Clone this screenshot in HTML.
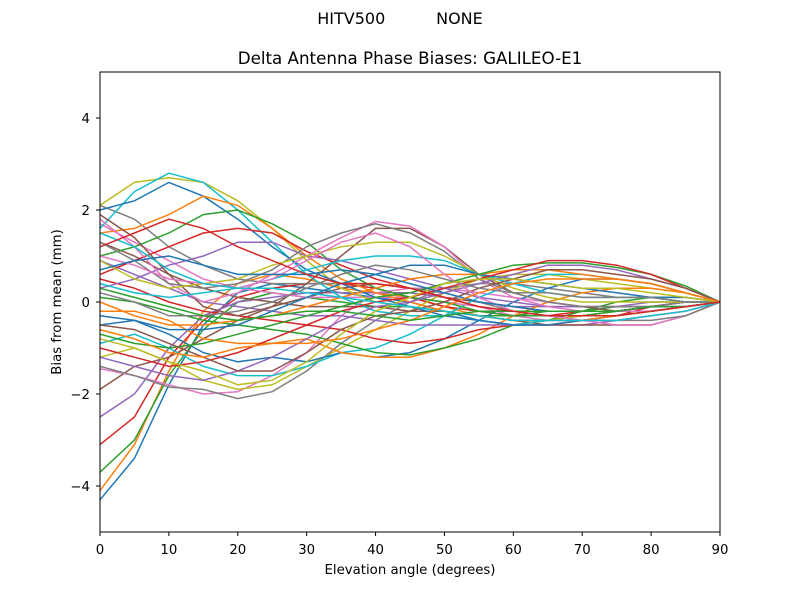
<!DOCTYPE html>
<html><head><meta charset="utf-8"><style>
body{margin:0;background:#fff;font-family:"DejaVu Sans","Liberation Sans",sans-serif}
</style></head><body>
<svg id="chart" width="800" height="600" xmlns="http://www.w3.org/2000/svg" font-family="DejaVu Sans, Liberation Sans, sans-serif">
<rect width="800" height="600" fill="#fff"/>
<text x="400" y="24" text-anchor="middle" font-size="16" xml:space="preserve">HITV500          NONE</text>
<text x="410" y="64" text-anchor="middle" font-size="16.7">Delta Antenna Phase Biases: GALILEO-E1</text>
<g id="lines"></g>
<rect x="100" y="72" width="620" height="460" fill="none" stroke="#000" stroke-width="1"/>
<g id="xticks"></g>
<g id="yticks"></g>
<text x="410" y="574" text-anchor="middle" font-size="13.3">Elevation angle (degrees)</text>
<text transform="translate(61,302) rotate(-90)" text-anchor="middle" font-size="13.3">Bias from mean (mm)</text>
</svg>
<script>
const elevations=[0,5,10,15,20,25,30,35,40,45,50,55,60,65,70,75,80,85,90];
const xTickLabels=[0,10,20,30,40,50,60,70,80,90];
const yTickLabels=[-4,-2,0,2,4];
const s01=[-4.3,-3.4,-1.8,-0.5,0.2,0.4,0.3,0.2,0.1,0,-0.2,-0.4,-0.5,-0.4,-0.3,-0.2,-0.1,-0.1,0];
const s02=[-4.1,-3.1,-1.5,-0.2,0.4,0.6,0.5,0.3,0.2,0.1,-0.1,-0.3,-0.4,-0.4,-0.3,-0.2,-0.1,0,0];
const s03=[-3.7,-3.0,-1.6,-0.6,0,0.2,0.1,0,-0.1,-0.1,-0.2,-0.3,-0.3,-0.2,-0.2,-0.1,-0.1,0,0];
const s04=[-3.1,-2.5,-1.2,-0.4,0.1,0.3,0.4,0.4,0.3,0.1,-0.1,-0.2,-0.3,-0.3,-0.2,-0.2,-0.1,0,0];
const s05=[-2.5,-2.0,-1.0,-0.3,0,0.1,0.2,0.2,0.2,0.2,0.1,0,-0.1,-0.1,-0.1,-0.1,0,0,0];
const s06=[-1.9,-1.4,-1.2,-0.8,-0.4,-0.1,0.1,0.3,0.4,0.3,0.1,0,-0.1,-0.2,-0.2,-0.2,-0.1,0,0];
const s07=[-1.45,-1.6,-1.8,-2.0,-1.95,-1.6,-1.1,-0.3,0.2,0.3,0.3,0.2,0.1,0,-0.1,-0.1,-0.1,0,0];
const s08=[-1.4,-1.6,-1.85,-1.9,-2.1,-1.95,-1.5,-0.9,-0.4,0,0.3,0.4,0.4,0.3,0.2,0.1,0.1,0,0];
const s09=[-1.2,-1.0,-1.3,-1.7,-1.9,-1.8,-1.4,-1.0,-0.6,-0.2,0.2,0.5,0.6,0.6,0.5,0.4,0.3,0.2,0];
const s10=[-0.9,-0.7,-1.0,-1.4,-1.6,-1.6,-1.4,-1.1,-1.0,-0.7,-0.3,0.1,0.4,0.6,0.6,0.5,0.4,0.2,0];
const s11=[-0.5,-0.4,-0.7,-1.1,-1.3,-1.2,-1.3,-1.1,-1.2,-1.1,-0.8,-0.4,0,0.3,0.5,0.5,0.4,0.2,0];
const s12=[-0.2,-0.2,-0.4,-0.8,-0.9,-0.9,-0.8,-1.1,-1.2,-1.2,-1.0,-0.7,-0.3,0,0.2,0.3,0.3,0.2,0];
const s13=[0.1,0,-0.2,-0.4,-0.5,-0.6,-0.7,-0.9,-1.1,-1.15,-1.0,-0.8,-0.5,-0.4,-0.2,0,0.1,0.1,0];
const s14=[0.5,0.3,0,-0.2,-0.3,-0.4,-0.5,-0.6,-0.8,-0.9,-0.8,-0.6,-0.5,-0.5,-0.4,-0.3,-0.1,0,0];
const s15=[0.9,0.6,0.3,0,-0.1,-0.2,-0.3,-0.3,-0.4,-0.5,-0.5,-0.5,-0.5,-0.5,-0.5,-0.4,-0.3,-0.2,0];
const s16=[1.3,1.0,0.6,0.3,0.1,0,-0.1,-0.1,-0.1,-0.2,-0.2,-0.3,-0.4,-0.5,-0.5,-0.5,-0.5,-0.3,0];
const s17=[1.7,1.3,0.9,0.5,0.3,0.2,0.1,0.1,0.1,0.1,0,-0.1,-0.3,-0.4,-0.4,-0.5,-0.5,-0.3,0];
const s18=[2.1,1.8,1.2,0.8,0.5,0.4,0.4,0.4,0.4,0.3,0.2,0,-0.2,-0.3,-0.4,-0.4,-0.4,-0.3,0];
const s19=[2.1,2.6,2.7,2.6,2.2,1.6,0.9,0.3,0,-0.1,-0.2,-0.3,-0.4,-0.4,-0.3,-0.3,-0.2,-0.1,0];
const s20=[1.6,2.4,2.8,2.6,2.0,1.3,0.6,0.1,-0.2,-0.3,-0.3,-0.4,-0.5,-0.4,-0.4,-0.3,-0.2,-0.1,0];
const s21=[2.0,2.2,2.6,2.3,1.8,1.2,0.7,0.4,0.1,-0.1,-0.3,-0.4,-0.5,-0.5,-0.4,-0.3,-0.2,-0.1,0];
const s22=[1.5,1.6,1.9,2.3,2.1,1.6,1.0,0.5,0.2,0,-0.2,-0.3,-0.4,-0.4,-0.4,-0.3,-0.2,-0.1,0];
const s23=[1.0,1.2,1.5,1.9,2.0,1.7,1.3,0.7,0.3,0.1,0,-0.2,-0.3,-0.3,-0.3,-0.2,-0.2,-0.1,0];
const s24=[0.6,0.9,1.2,1.5,1.6,1.5,1.1,0.8,0.5,0.3,0.1,-0.1,-0.2,-0.2,-0.2,-0.2,-0.1,0,0];
const s25=[0.3,0.5,0.8,1.0,1.3,1.3,1.0,0.9,0.7,0.5,0.3,0.1,0,-0.1,-0.1,-0.1,-0.1,0,0];
const s26=[1.9,1.4,0.6,-0.1,-0.3,-0.1,0.4,1.0,1.6,1.6,1.2,0.6,0.2,0,-0.1,-0.2,-0.2,-0.1,0];
const s27=[1.8,1.2,0.4,0,0.2,0.6,1.0,1.4,1.75,1.65,1.2,0.5,0.1,-0.1,-0.2,-0.2,-0.2,-0.1,0];
const s28=[1.3,0.9,0.4,0.3,0.4,0.7,1.2,1.5,1.7,1.5,1.1,0.5,0.2,0,-0.1,-0.1,-0.1,0,0];
const s29=[0.9,0.5,0.3,0.4,0.5,0.8,1.0,1.2,1.3,1.3,1.0,0.6,0.3,0.1,0,0,0,0,0];
const s30=[0.4,0.2,0.1,0.2,0.3,0.5,0.7,0.9,1.0,1.0,0.9,0.6,0.4,0.2,0.1,0.1,0.1,0,0];
const s31=[-0.3,-0.4,-0.6,-0.6,-0.5,-0.2,0.1,0.4,0.6,0.8,0.8,0.6,0.5,0.4,0.3,0.2,0.1,0.1,0];
const s32=[0.0,-0.3,-0.5,-0.5,-0.4,-0.3,-0.1,0.1,0.3,0.5,0.6,0.6,0.7,0.7,0.6,0.5,0.4,0.2,0];
const s33=[-0.7,-0.9,-1.0,-0.9,-0.7,-0.5,-0.3,-0.1,0.1,0.2,0.4,0.6,0.8,0.85,0.85,0.75,0.6,0.35,0];
const s34=[-1.0,-1.2,-1.4,-1.3,-1.1,-0.8,-0.5,-0.2,0,0.1,0.3,0.5,0.7,0.9,0.9,0.8,0.6,0.3,0];
const s35=[-1.2,-1.4,-1.6,-1.7,-1.5,-1.2,-0.8,-0.4,-0.1,0,0.2,0.4,0.6,0.8,0.8,0.7,0.5,0.3,0];
const s36=[-0.5,-0.6,-0.9,-1.2,-1.5,-1.5,-1.1,-0.6,-0.3,-0.2,0,0.3,0.5,0.7,0.7,0.6,0.5,0.3,0];
const s37=[1.0,0.8,0.5,0.4,0.3,0.5,0.9,1.3,1.5,1.2,0.6,0.1,-0.2,-0.3,-0.4,-0.4,-0.3,-0.2,0];
const s38=[0.2,0,-0.3,-0.3,-0.2,0,0.3,0.6,0.8,0.7,0.5,0.3,0.2,0.2,0.1,0.1,0.1,0,0];
const s39=[-0.8,-1.0,-1.3,-1.5,-1.8,-1.7,-1.3,-0.7,-0.2,0.1,0.4,0.5,0.5,0.4,0.3,0.3,0.2,0.1,0];
const s40=[1.5,1.2,0.7,0.4,0.3,0.3,0.2,0.1,0,-0.1,-0.2,-0.3,-0.4,-0.4,-0.4,-0.4,-0.3,-0.2,0];
const s41=[0.7,0.9,1.0,0.8,0.6,0.6,0.6,0.7,0.6,0.4,0.2,0,-0.1,-0.2,-0.2,-0.2,-0.1,-0.1,0];
const s42=[-0.6,-0.8,-1.1,-1.2,-1.0,-0.9,-0.9,-0.8,-0.6,-0.4,-0.1,0.2,0.4,0.5,0.5,0.5,0.4,0.2,0];
const s43=[0.3,0.1,-0.1,-0.3,-0.4,-0.3,-0.2,-0.2,-0.3,-0.4,-0.3,-0.2,-0.2,-0.2,-0.2,-0.2,-0.1,-0.1,0];
const s44=[1.2,1.5,1.8,1.6,1.2,0.9,0.6,0.4,0.4,0.3,0.1,-0.1,-0.2,-0.3,-0.3,-0.3,-0.2,-0.1,0];
const series=[s01,s02,s03,s04,s05,s06,s07,s08,s09,s10,s11,s12,s13,s14,s15,s16,s17,s18,s19,s20,s21,s22,s23,s24,s25,s26,s27,s28,s29,s30,s31,s32,s33,s34,s35,s36,s37,s38,s39,s40,s41,s42,s43,s44];
const colors=["#1f77b4","#ff7f0e","#2ca02c","#d62728","#9467bd","#8c564b","#e377c2","#7f7f7f","#bcbd22","#17becf"];
const NS="http://www.w3.org/2000/svg";
function xs(v){return 100+v/90*620;}
function ys(v){return 302-v*46;}
const lg=document.getElementById('lines');
series.forEach((s,i)=>{
  const p=document.createElementNS(NS,'polyline');
  p.setAttribute('points',s.map((v,j)=>xs(elevations[j])+','+ys(v)).join(' '));
  p.setAttribute('fill','none');
  p.setAttribute('stroke',colors[i%10]);
  p.setAttribute('stroke-width','1.5');
  
  
  lg.appendChild(p);
});
const xg=document.getElementById('xticks');
xTickLabels.forEach(v=>{
  const l=document.createElementNS(NS,'line');
  l.setAttribute('x1',xs(v));l.setAttribute('x2',xs(v));l.setAttribute('y1',532);l.setAttribute('y2',536);l.setAttribute('stroke','#000');
  
  
  xg.appendChild(l);
  const t=document.createElementNS(NS,'text');
  t.setAttribute('x',xs(v));t.setAttribute('y',554);t.setAttribute('text-anchor','middle');t.setAttribute('font-size','13.3');
  t.textContent=v;
  
  
  xg.appendChild(t);
});
const yg=document.getElementById('yticks');
yTickLabels.forEach(v=>{
  const l=document.createElementNS(NS,'line');
  l.setAttribute('x1',96);l.setAttribute('x2',100);l.setAttribute('y1',ys(v));l.setAttribute('y2',ys(v));l.setAttribute('stroke','#000');
  
  
  yg.appendChild(l);
  const t=document.createElementNS(NS,'text');
  t.setAttribute('x',90);t.setAttribute('y',ys(v)+5);t.setAttribute('text-anchor','end');t.setAttribute('font-size','13.3');
  t.textContent=v<0?'\u2212'+Math.abs(v):v;
  
  
  yg.appendChild(t);
});
</script>
</body></html>
